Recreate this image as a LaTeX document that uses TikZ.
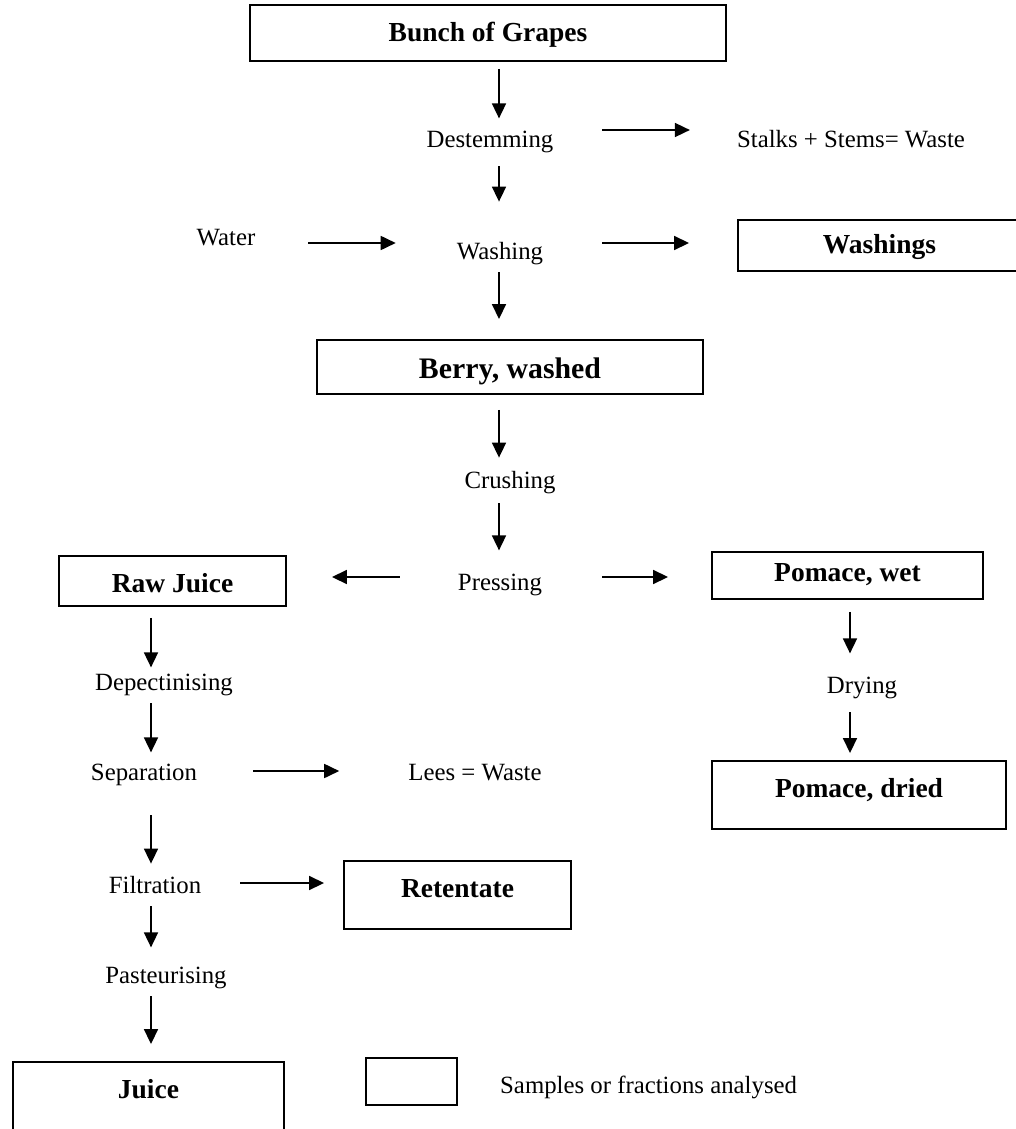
\documentclass[tikz,border=0pt]{standalone}
\usepackage{fontspec}
\setmainfont{Liberation Serif}
\usetikzlibrary{arrows.meta}
\begin{document}
\begin{tikzpicture}[x=1pt,y=-1pt,
  txt/.style={inner sep=0pt, anchor=base, font=\fontsize{24.8}{30}\selectfont},
  box/.style={draw, line width=1.9pt, inner sep=0pt, text height=19pt,
    font=\bfseries\fontsize{27.5}{33}\selectfont},
  arr/.style={line width=1.7pt, -{Triangle[length=15pt,width=14pt]}}]
\useasboundingbox (0,0) rectangle (1016,1129);
% columns and rows
\coordinate (colA) at (499,0);
\coordinate (colB) at (151,0);
\coordinate (colC) at (850,0);
\coordinate (r1) at (0,130);
\coordinate (r2) at (0,243);
\coordinate (r3) at (0,577);
\coordinate (r4) at (0,771);
\coordinate (r5) at (0,883);
% boxes
\node[box, minimum width=476pt, minimum height=56pt, text depth=1pt] (bunch) at (488,33) {Bunch of Grapes};
\node[box, minimum width=283pt, minimum height=51pt, text depth=4pt] (washings) at (879.5,245.5) {Washings};
\node[box, minimum width=386pt, minimum height=54pt, text height=22pt, text depth=0pt,
  font=\bfseries\fontsize{29.8}{35}\selectfont] (berry) at (510,367) {Berry, washed};
\node[box, minimum width=227pt, minimum height=50pt, text height=22pt, text depth=0pt] (rawjuice) at (172.5,581) {Raw Juice};
\node[box, minimum width=271pt, minimum height=47pt, text depth=8pt] (pomwet) at (847.5,575.5) {Pomace, wet};
\node[box, minimum width=294pt, minimum height=68pt, text depth=15pt] (pomdry) at (859,795) {Pomace, dried};
\node[box, minimum width=227pt, minimum height=68pt, text depth=15pt] (retent) at (457.5,895) {Retentate};
\node[box, minimum width=271pt, minimum height=78pt, text depth=25pt] (juice) at (148.5,1101) {Juice};
\node[box, minimum width=91pt, minimum height=47pt] (legend) at (411.5,1081.5) {};
% text nodes
\node[txt] (destem) at (490,147) {Destemming};
\node[txt] (stalks) at (851,147) {Stalks + Stems= Waste};
\node[txt] (water) at (226,245) {Water};
\node[txt] (washing) at (500,259) {Washing};
\node[txt] (crush) at (510,488) {Crushing};
\node[txt] (press) at (500,590) {Pressing};
\node[txt] (drying) at (862,693) {Drying};
\node[txt] (depect) at (164,690) {Depectinising};
\node[txt] (separ) at (144,780) {Separation};
\node[txt] (lees) at (475,780) {Lees = Waste};
\node[txt] (filtr) at (155,893) {Filtration};
\node[txt] (past) at (166,983) {Pasteurising};
\node[txt, anchor=base west] (samples) at (500,1093) {Samples or fractions analysed};
% connectors
\draw[arr, shorten <=7pt, shorten >=12pt] (bunch.south -| colA) -- (destem.north -| colA);
\draw[arr, shorten <=48.7pt, shorten >=47pt] (destem.east |- r1) -- (stalks.west |- r1);
\draw[arr, shorten <=13.6pt, shorten >=40pt] (destem.south -| colA) -- (washing.north -| colA);
\draw[arr, shorten <=52.7pt, shorten >=61pt] (water.east |- r2) -- (washing.west |- r2);
\draw[arr, shorten <=59pt, shorten >=48pt] (washing.east |- r2) -- (washings.west |- r2);
\draw[arr, shorten <=7.6pt, shorten >=20pt] (washing.south -| colA) -- (berry.north -| colA);
\draw[arr, shorten <=15pt, shorten >=13pt] (berry.south -| colA) -- (crush.north -| colA);
\draw[arr, shorten <=9.6pt, shorten >=23pt] (crush.south -| colA) -- (press.north -| colA);
\draw[arr, shorten <=58pt, shorten >=45pt] (press.west |- r3) -- (rawjuice.east |- r3);
\draw[arr, shorten <=60pt, shorten >=43pt] (press.east |- r3) -- (pomwet.west |- r3);
\draw[arr, shorten <=12pt, shorten >=23pt] (pomwet.south -| colC) -- (drying.north -| colC);
\draw[arr, shorten <=13.6pt, shorten >=7pt] (drying.south -| colC) -- (pomdry.north -| colC);
\draw[arr, shorten <=11pt, shorten >=6pt] (rawjuice.south -| colB) -- (depect.north -| colB);
\draw[arr, shorten <=7.6pt, shorten >=11pt] (depect.south -| colB) -- (separ.north -| colB);
\draw[arr, shorten <=56pt, shorten >=69pt] (separ.east |- r4) -- (lees.west |- r4);
\draw[arr, shorten <=29.6pt, shorten >=12pt] (separ.south -| colB) -- (filtr.north -| colB);
\draw[arr, shorten <=38.8pt, shorten >=19pt] (filtr.east |- r5) -- (retent.west |- r5);
\draw[arr, shorten <=13pt, shorten >=19pt] (filtr.south -| colB) -- (past.north -| colB);
\draw[arr, shorten <=7.6pt, shorten >=17pt] (past.south -| colB) -- (juice.north -| colB);
\end{tikzpicture}
\end{document}
